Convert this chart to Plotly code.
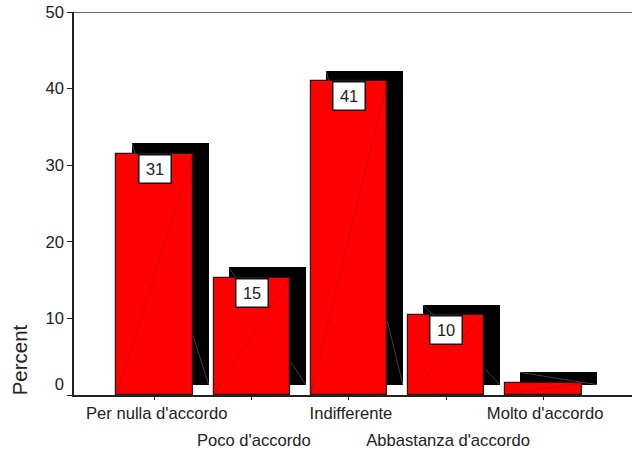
import plotly.graph_objects as go

categories = ["Per nulla d'accordo", "Poco d'accordo", "Indifferente", "Abbastanza d'accordo", "Molto d'accordo"]
positions = [1, 2, 3, 4, 5]
percent = [31.5, 15.3, 41.0, 10.4, 1.6]
labels = ["31", "15", "41", "10", None]
ytick_values = [0, 10, 20, 30, 40, 50]

BAR_W = 0.79
DX = 0.16
DY = 1.35
FONT = "Liberation Sans, Arial, sans-serif"
INK = "#222222"

fig = go.Figure()

fig.add_trace(go.Bar(x=[p + DX for p in positions], y=percent, base=[DY] * 5, width=BAR_W,
                     marker=dict(color="black", line=dict(width=0)), showlegend=False, hoverinfo="skip"))
fig.add_trace(go.Bar(x=positions, y=percent, width=BAR_W,
                     marker=dict(color="#ff0000", line=dict(color="#1a1a1a", width=1.2)),
                     showlegend=False))

# shadow diagonal: only the parts not hidden by the red bar
sx, sy = [], []
for p, v in zip(positions, percent):
    left = p + DX - BAR_W / 2
    t_top = DY / v
    t_right = 1 - DX / BAR_W
    spans = [(0, 1)] if t_top >= t_right else [(0, t_top), (t_right, 1)]
    for a, b in spans:
        sx += [left + a * BAR_W, left + b * BAR_W, None]
        sy += [v + DY - a * v, v + DY - b * v, None]
fig.add_trace(go.Scatter(x=sx, y=sy, mode="lines", line=dict(color="#808080", width=0.5),
                         showlegend=False, hoverinfo="skip"))
dx, dy = [], []
for p, v in zip(positions, percent):
    dx += [p - BAR_W / 2, p + BAR_W / 2, None]
    dy += [0, v, None]
fig.add_trace(go.Scatter(x=dx, y=dy, mode="lines", line=dict(color="#bb0000", width=0.6),
                         showlegend=False, hoverinfo="skip"))
# second x axis carries the tick marks and the staggered (lower row) tick labels
fig.add_trace(go.Scatter(x=positions, y=percent, xaxis="x2", mode="markers", marker=dict(opacity=0),
                         showlegend=False, hoverinfo="skip"))

for p, v, t in zip(positions, percent, labels):
    if t is None:
        continue
    fig.add_annotation(x=p, y=v, yref="y", xref="x", text=t, showarrow=False, yanchor="top", yshift=0,
                       width=31, height=27, bgcolor="white", bordercolor="#111111", borderwidth=1.5,
                       borderpad=0, font=dict(family=FONT, size=16.4, color=INK))

fig.add_annotation(xref="x domain", yref="y", x=-0.097, y=0, text="Percent", showarrow=False, textangle=-90,
                   yanchor="bottom", xanchor="center", yshift=-2, font=dict(family=FONT, size=20.5, color=INK))

rng = [0.168, 5.915]
lower_row = [c if i % 2 else "" for i, c in enumerate(categories)]
fig.update_layout(
    template="none",
    width=632, height=453, autosize=False, margin=dict(l=74, r=0, t=12, b=58, pad=0),
    paper_bgcolor="white", plot_bgcolor="white", barmode="overlay", bargap=0,
    font=dict(family=FONT, size=16.6, color=INK),
    xaxis=dict(automargin=False, range=rng, tickmode="array", tickvals=positions[0::2], ticktext=categories[0::2],
               ticks="outside", ticklen=2, tickwidth=1, tickcolor=INK, showgrid=False, zeroline=False,
               ticklabelshift=2, showline=True, linecolor=INK, linewidth=1.5),
    xaxis2=dict(automargin=False, range=rng, overlaying="x", side="bottom", anchor="y", tickmode="array",
                tickvals=positions, ticktext=lower_row, ticks="outside", ticklen=4, tickwidth=1,
                tickcolor=INK, ticklabelstandoff=26, ticklabelshift=2, showgrid=False, zeroline=False, showline=False),
    yaxis=dict(automargin=False, range=[0, 50], tickmode="array", tickvals=ytick_values,
               ticktext=["0<br> "] + [str(v) for v in ytick_values[1:]],
               ticks="outside", ticklen=5, tickwidth=1, tickcolor=INK, showgrid=False, zeroline=False,
               showline=True, linecolor=INK, linewidth=1.5),
)
fig.add_shape(type="line", xref="x domain", yref="y", x0=0, x1=1, y0=50, y1=50,
              line=dict(color="#333333", width=1.5))
# the page's default 8px body margin would push the figure off the window
fig.write_html("out.html", config=dict(displayModeBar=False), post_script="document.body.style.margin='0';")
